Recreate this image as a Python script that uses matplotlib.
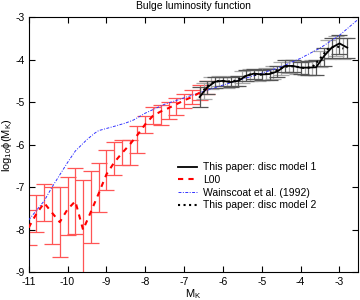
import matplotlib
matplotlib.use("Agg")
import matplotlib.pyplot as plt
import numpy as np

plt.rcParams['font.family'] = ['Liberation Sans', 'DejaVu Sans']
plt.rcParams['mathtext.fontset'] = 'custom'
plt.rcParams['mathtext.rm'] = 'Liberation Sans'
plt.rcParams['mathtext.it'] = 'Liberation Sans'
plt.rcParams['axes.unicode_minus'] = False

# L00 (red)
m_l00 = [-11.0, -10.8, -10.6, -10.4, -10.2, -10.0, -9.8, -9.6, -9.4, -9.2, -9.0, -8.8,
         -8.6, -8.4, -8.2, -8.0, -7.8, -7.6, -7.4, -7.2, -7.0, -6.8, -6.6, -6.4]
y_l00 = [-7.95, -7.62, -7.37, -7.6, -7.82, -7.52, -7.33, -8.0, -7.58, -7.15, -6.7, -6.42,
         -6.2, -6.0, -5.77, -5.52, -5.32, -5.22, -5.14, -5.05, -4.96, -4.88, -4.78, -4.68]
up_l00 = [-7.53, -7.19, -6.92, -7.0, -7.0, -6.76, -6.56, -6.82, -6.62, -6.42, -6.13, -5.93,
          -5.9, -5.89, -5.56, -5.32, -5.12, -5.06, -5.0, -4.91, -4.82, -4.72, -4.6, -4.5]
lo_l00 = [-8.36, -8.05, -7.80, -8.34, -8.65, -8.12, -8.09, -9.6, -8.30, -7.58, -7.07, -6.72,
          -6.48, -6.48, -6.19, -5.72, -5.52, -5.54, -5.4, -5.31, -5.13, -5.05, -4.95, -4.82]

# This paper: disc model 1 (black solid)
m_p1 = [-6.6, -6.4, -6.2, -6.0, -5.8, -5.6, -5.4, -5.2, -5.0, -4.8, -4.6, -4.4, -4.2,
        -4.0, -3.8, -3.6, -3.4, -3.2, -3.0, -2.8]
y_p1 = [-4.88, -4.65, -4.52, -4.50, -4.53, -4.50, -4.38, -4.33, -4.35, -4.34, -4.28, -4.15,
        -4.15, -4.19, -4.19, -4.18, -3.92, -3.72, -3.62, -3.72]
up_p1 = [-4.64, -4.50, -4.40, -4.40, -4.42, -4.38, -4.25, -4.22, -4.24, -4.22, -4.14, -4.02,
         -4.02, -4.05, -4.04, -4.0, -3.72, -3.5, -3.42, -3.5]
lo_p1 = [-5.11, -4.80, -4.68, -4.62, -4.65, -4.62, -4.50, -4.46, -4.48, -4.48, -4.42, -4.30,
         -4.30, -4.35, -4.36, -4.36, -4.14, -3.97, -3.88, -3.97]

# This paper: disc model 2 (black dotted)
m_p2 = [-6.5, -6.3, -6.1, -5.9, -5.7, -5.5, -5.3, -5.1, -4.9, -4.7, -4.5, -4.3, -4.1,
        -3.9, -3.7, -3.5, -3.3, -3.1, -2.9]
y_p2 = [-4.72, -4.55, -4.50, -4.52, -4.50, -4.42, -4.35, -4.36, -4.34, -4.30, -4.20, -4.15,
        -4.17, -4.20, -4.18, -3.98, -3.75, -3.68, -3.74]
up_p2 = [-4.55, -4.42, -4.38, -4.40, -4.38, -4.28, -4.22, -4.24, -4.20, -4.16, -4.06, -4.0,
         -4.03, -4.05, -4.02, -3.80, -3.55, -3.45, -3.5]
lo_p2 = [-4.92, -4.70, -4.63, -4.66, -4.63, -4.56, -4.50, -4.50, -4.48, -4.46, -4.36, -4.32,
         -4.33, -4.36, -4.36, -4.18, -3.98, -3.92, -3.98]

# Wainscoat et al. (1992) (blue dash-dot)
m_w = [-11.0, -10.6, -10.4, -10.0, -9.8, -9.5, -9.3, -9.2, -9.0, -8.8, -8.5, -8.3, -8.0,
       -7.5, -7.0, -6.5, -6.0, -5.5, -5.0, -4.5, -4.0, -3.5, -3.0, -2.5]
y_w = [-7.77, -7.32, -7.0, -6.42, -6.15, -5.88, -5.73, -5.67, -5.62, -5.57, -5.49, -5.42,
       -5.26, -5.05, -4.9, -4.75, -4.6, -4.46, -4.32, -4.17, -3.97, -3.73, -3.43, -3.04]

fig = plt.figure(figsize=(3.6, 3.0), dpi=100)
ax = fig.add_axes([0.0797, 0.0923, 0.914, 0.851])

def draw_err(m, y, up, lo, col, capcol, lw=0.9):
    y = np.array(y); up = np.array(up); lo = np.array(lo)
    eb = ax.errorbar(m, y, yerr=[y - lo, up - y], fmt='none', ecolor=col,
                     elinewidth=lw, capsize=5.6, capthick=lw, zorder=1)
    for cl in eb[1]:
        cl.set_color(capcol)
    return eb

draw_err(m_l00, y_l00, up_l00, lo_l00, '#ff5555', '#ff9a9a')
draw_err(m_p2, y_p2, up_p2, lo_p2, '#aaaaaa', '#aaaaaa')
draw_err(m_p1, y_p1, up_p1, lo_p1, '#555555', '#777777')

ax.plot(m_w, y_w, color='#3333ff', ls='-.', lw=0.7, dashes=(3, 1.5, 1, 1.5), zorder=3,
        label='Wainscoat et al. (1992)')
ax.plot(m_l00, y_l00, color='red', ls='--', lw=1.5, dashes=(2.5, 2.5), zorder=4, label='L00')
ax.plot(m_p2, y_p2, color='black', ls=':', lw=1.5, zorder=5,
        label='This paper: disc model 2')
ax.plot(m_p1, y_p1, color='black', ls='-', lw=1.3, zorder=6,
        label='This paper: disc model 1')

ax.set_xlim(-11, -2.53)
ax.set_ylim(-9, -3)
ax.set_xticks([-11, -10, -9, -8, -7, -6, -5, -4, -3])
ax.set_yticks([-9, -8, -7, -6, -5, -4, -3])
ax.tick_params(direction='in', top=True, right=True, length=4, width=0.8,
               labelsize=7.5)
ax.tick_params(axis='x', pad=3.5)
ax.tick_params(axis='y', pad=2.5)
for s in ax.spines.values():
    s.set_linewidth(0.8)

ax.set_xlabel('M$_\\mathrm{K}$', fontsize=8, labelpad=0)
ax.set_ylabel('log$_{10}$$\\phi$(M$_\\mathrm{K}$)', fontsize=8, labelpad=1)
ax.set_title('Bulge luminosity function', fontsize=7.5, pad=6)

h, l = ax.get_legend_handles_labels()
order = ['This paper: disc model 1', 'L00', 'Wainscoat et al. (1992)', 'This paper: disc model 2']
hs = [h[l.index(o)] for o in order]
ax.legend(hs, order, loc='upper left', bbox_to_anchor=(0.441, 0.447), frameon=False,
          fontsize=7.5, handlelength=1.8, handletextpad=0.6, labelspacing=0.25,
          borderaxespad=0)

fig.savefig('out.png', dpi=100)
